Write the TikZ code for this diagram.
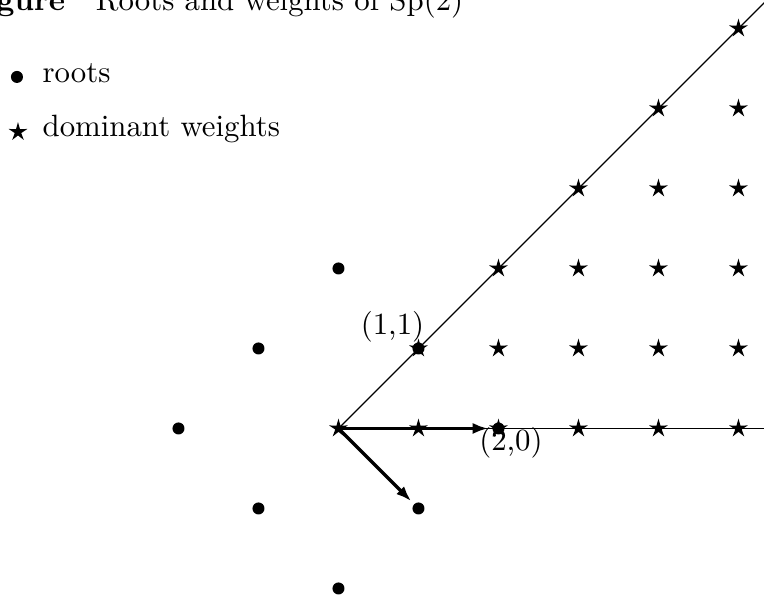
\documentclass[tikz,border=0pt]{standalone}
\usetikzlibrary{arrows.meta,positioning,shapes.geometric}
\tikzset{
  rootdot/.style={circle, fill, inner sep=0pt, minimum size=3.9pt},
  domwt/.style={star, star points=5, star point ratio=2.9, fill, inner sep=0pt, minimum size=6.4pt},
  axisline/.style={line width=0.4pt},
  rootarrow/.style={-{Latex[length=5pt,width=3.6pt]}, line width=1.1pt, shorten >=1.2pt},
  legtext/.style={anchor=base west, inner sep=0pt},
  ptlabel/.style={inner sep=0pt}
}

\begin{document}
\begin{tikzpicture}[x=25.95pt, y=25.95pt]
  \useasboundingbox (-4.231,-2.181) rectangle (5.319,5.356);
  % title and legend
  \node[legtext] (title) at (-4.681,5.219) {\textbf{Figure}\quad Roots and weights of Sp(2)};
  \node[rootdot] (legdot) at (-4.019,4.394) {};
  \node[legtext] (legroots) at (-3.706,4.319) {roots};
  \node[domwt] (legstar) at (-4.006,3.706) {};
  \node[legtext] (legwts) at (-3.706,3.644) {dominant weights};
  % walls of the dominant chamber
  \coordinate (O) at (0,0);
  \coordinate (diagend) at (5.6,5.6);
  \coordinate (axisend) at (5.6,0);
  \draw[axisline] (O) -- (diagend);
  \draw[axisline] (O) -- (axisend);
  % dominant weights
  \foreach \a in {0,...,5}
    \foreach \b in {0,...,\a}
      \node[domwt] (w\a\b) at (\a,\b) {};
  % roots
  \node[rootdot] (r20) at (2,0) {};
  \node[rootdot] (r11) at (1,1) {};
  \node[rootdot] (r02) at (0,2) {};
  \node[rootdot] (rm11) at (-1,1) {};
  \node[rootdot] (rm20) at (-2,0) {};
  \node[rootdot] (rm1m1) at (-1,-1) {};
  \node[rootdot] (r0m2) at (0,-2) {};
  \node[rootdot] (r1m1) at (1,-1) {};
  % simple roots
  \draw[rootarrow] (w00.center) -- (r20);
  \draw[rootarrow] (w00.center) -- (r1m1);
  \node[ptlabel] (lab11) at (0.675,1.269) {(1,1)};
  \node[ptlabel] (lab20) at (2.156,-0.185) {(2,0)};
\end{tikzpicture}
\end{document}
